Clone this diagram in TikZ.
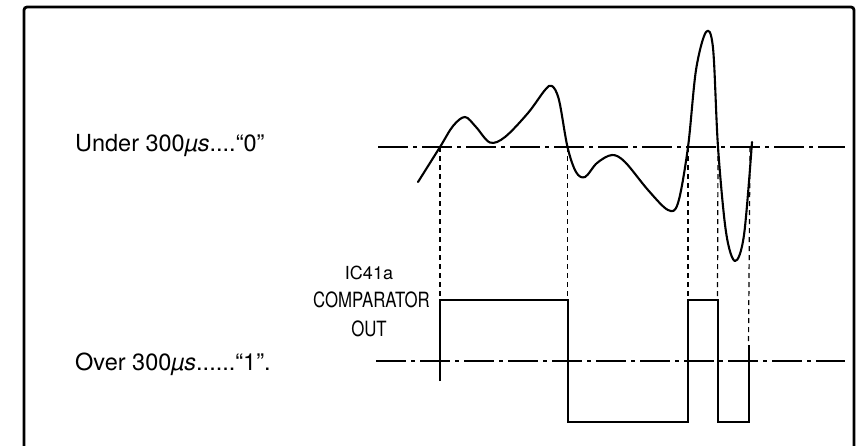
\documentclass[tikz,border=0pt]{standalone}
\usepackage{fontspec}
\usepackage{graphicx}
\setmainfont{TeX Gyre Heros}
\begin{document}
\begin{tikzpicture}[x=1pt,y=-1pt,
  frame/.style={line width=2.8pt},
  thresh/.style={line width=1.5pt,dash pattern=on 30pt off 5pt on 4pt off 5pt},
  guide/.style={line width=1.2pt,dash pattern=on 5pt off 4pt},
  wave/.style={line width=2.1pt,line join=round,line cap=round},
  pulse/.style={line width=2pt,line join=miter},
  lbl/.style={inner sep=0pt,font=\fontsize{23.5}{26}\selectfont},
  small/.style={inner sep=0pt,font=\fontsize{18}{20}\selectfont}]
\useasboundingbox (0,0) rectangle (861,445);
% frame
\draw[frame,rounded corners=3pt] (24,448) -- (24,7) -- (854,7) -- (854,448);
% labels
\node[lbl,anchor=base west] (under) at (75,151) {Under 300\textit{µs}....“0”};
\node[lbl,anchor=base west] (over) at (75,370.5) {Over 300\textit{µs}......“1”.};
\node[small,anchor=base] (ic) at (369,279) {IC41a};
\node[inner sep=0pt,anchor=base] (comp) at (371.5,307) {\scalebox{0.8}[1]{\fontsize{21}{23}\selectfont COMPARATOR}};
\node[inner sep=0pt,anchor=base] (out) at (369,336) {\scalebox{0.8}[1]{\fontsize{21}{23}\selectfont OUT}};
% threshold lines
\coordinate (u1) at (378,147); \coordinate (u2) at (845,147);
\coordinate (l1) at (376,361); \coordinate (l2) at (845,361);
\draw[thresh] (u1) -- (u2);
\draw[thresh] (l1) -- (l2);
% crossing points
\coordinate (c1) at (440,147);
\coordinate (c2) at (567.5,147);
\coordinate (c3) at (688,147);
\coordinate (c4) at (718,147);
\coordinate (c5) at (750,147);
% waveform
\draw[wave] plot[smooth,tension=0.55] coordinates {
 (418,182) (440,147) (453,126) (465,117) (476,127) (490,142.5) (505,137)
 (528,113) (545,90) (552,86) (559,100) (567.5,147) (576,172) (585,177)
 (597,163) (612,155) (625,162) (648,190) (668,210) (678,203) (688,147)
 (696,70) (706,32) (713,48) (718,147) (726,232) (735,261) (744,235) (752,142)};
% guide lines
\coordinate (h1) at (440,300);
\coordinate (h2) at (567.5,300);
\coordinate (h3) at (688,300);
\coordinate (h4) at (717.5,300);
\coordinate (h5) at (748.5,345);
\draw[guide] (c1) -- (h1);
\draw[guide] (c2) -- (h2);
\draw[guide] (c3) -- (h3);
\draw[guide] (c4) -- (h4);
\draw[guide] (c5) -- (h5);
% comparator output
\coordinate (p0) at (440,381);
\coordinate (q1) at (567.5,421.5);
\coordinate (q2) at (688,421.5);
\coordinate (q3) at (717.5,421.5);
\coordinate (q4) at (748.5,421.5);
\draw[pulse] (p0) -- (h1) -- (h2) -- (q1) -- (q2) -- (h3) -- (h4) -- (q3) -- (q4) -- (h5);
\end{tikzpicture}
\end{document}
